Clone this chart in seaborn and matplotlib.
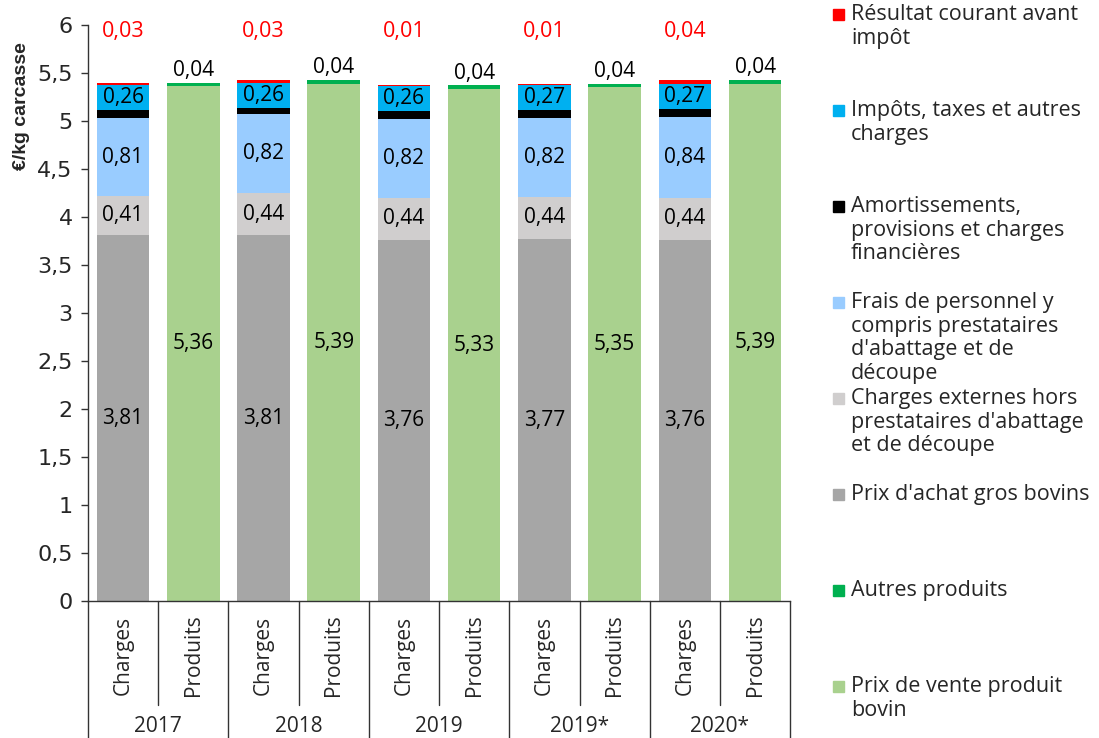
import matplotlib
matplotlib.use("Agg")
import matplotlib.pyplot as plt
from matplotlib.patches import Rectangle
import seaborn as sns
import pandas as pd

# --- données (€/kg carcasse) ---
annees = ["2017", "2018", "2019", "2019*", "2020*"]
types = ["Charges", "Produits"]

# charges, du bas vers le haut
prix_achat = [3.81, 3.81, 3.76, 3.77, 3.76]
charges_externes = [0.41, 0.44, 0.44, 0.44, 0.44]
frais_personnel = [0.81, 0.82, 0.82, 0.82, 0.84]
amortissements = [0.08, 0.07, 0.08, 0.08, 0.08]
impots_taxes = [0.26, 0.26, 0.26, 0.27, 0.27]
resultat = [0.03, 0.03, 0.01, 0.01, 0.04]

# produits, du bas vers le haut
prix_vente = [5.36, 5.39, 5.33, 5.35, 5.39]
autres_produits = [0.04, 0.04, 0.04, 0.04, 0.04]

series_charges = [
    ("Prix d'achat gros bovins", prix_achat, "#A6A6A6"),
    ("Charges externes hors\nprestataires d'abattage\net de découpe", charges_externes, "#D0CECE"),
    ("Frais de personnel y\ncompris prestataires\nd'abattage et de\ndécoupe", frais_personnel, "#99CCFF"),
    ("Amortissements,\nprovisions et charges\nfinancières", amortissements, "#000000"),
    ("Impôts, taxes et autres\ncharges", impots_taxes, "#00B0F0"),
    ("Résultat courant avant\nimpôt", resultat, "#FF0000"),
]
series_produits = [
    ("Prix de vente produit\nbovin", prix_vente, "#A9D18E"),
    ("Autres produits", autres_produits, "#00B050"),
]

barres = [f"{a} {t}" for a in annees for t in types]


def fmt(v):
    return f"{v:.2f}".replace(".", ",")


# table longue : une ligne par barre et par série, avec le cumul
lignes = []
for groupe, type_barre in [(series_charges, "Charges"), (series_produits, "Produits")]:
    for i, a in enumerate(annees):
        cumul = 0
        for nom, vals, couleur in groupe:
            cumul += vals[i]
            lignes.append({"barre": f"{a} {type_barre}", "serie": nom,
                           "valeur": vals[i], "cumul": cumul})
df = pd.DataFrame(lignes)

sns.set_style("white")
plt.rcParams["font.family"] = ["Open Sans", "DejaVu Sans"]

fig = plt.figure(figsize=(10.99, 7.38), dpi=100)
ax = fig.add_axes([0.080, 0.1856, 0.639, 0.7805])

# empilement : on dessine les cumuls du plus haut au plus bas
ordre = list(reversed(series_charges)) + list(reversed(series_produits))
for nom, vals, couleur in ordre:
    sub = df[df["serie"] == nom]
    sns.barplot(data=sub, x="barre", y="cumul", order=barres, color=couleur,
                saturation=1, width=0.75, linewidth=0, errorbar=None, ax=ax)

ax.set_xlim(-0.5, 9.5)
ax.set_ylim(0, 6)
ax.set_yticks([k * 0.5 for k in range(13)])
ax.set_yticklabels([f"{k * 0.5:g}".replace(".", ",") for k in range(13)],
                   family=["Liberation Sans Narrow", "DejaVu Sans"], fontsize=16)
ax.tick_params(axis="y", direction="out", length=5, width=1, color="#333333",
               left=True, pad=6)
ax.set_xticks([])
ax.set_xlabel("")
ax.set_ylabel("€/kg carcasse", fontsize=14, fontweight="bold",
              family=["Liberation Sans", "DejaVu Sans"])
ax.yaxis.set_label_coords(-0.083, 0.86)
for s in ["top", "right"]:
    ax.spines[s].set_visible(False)
for s in ["left", "bottom"]:
    ax.spines[s].set_color("#333333")
    ax.spines[s].set_linewidth(1)

# étiquettes de valeurs
lab = dict(ha="center", va="center", fontsize=15, color="black")
for i in range(len(annees)):
    xc = 2 * i
    xp = 2 * i + 1
    ax.text(xc, prix_achat[i] / 2, fmt(prix_achat[i]), **lab)
    b = prix_achat[i]
    ax.text(xc, b + charges_externes[i] / 2, fmt(charges_externes[i]), **lab)
    b += charges_externes[i]
    ax.text(xc, b + frais_personnel[i] / 2, fmt(frais_personnel[i]), **lab)
    b += frais_personnel[i] + amortissements[i]
    ax.text(xc, b + impots_taxes[i] / 2, fmt(impots_taxes[i]), **lab)
    ax.text(xc, 5.93, fmt(resultat[i]), ha="center", va="center",
            fontsize=15.5, color="#FF0000")
    ax.text(xp, prix_vente[i] + autres_produits[i] + 0.13, fmt(autres_produits[i]), **lab)
    ax.text(xp, prix_vente[i] / 2, fmt(prix_vente[i]), **lab)

# axe des x à deux niveaux
tr = ax.get_xaxis_transform()
for k, b in enumerate(barres):
    ax.text(k, -0.094, types[k % 2], rotation=90, ha="center", va="center",
            fontsize=15, transform=tr)
for i, a in enumerate(annees):
    ax.text(2 * i + 0.5, -0.217, a, ha="center", va="center", fontsize=15,
            transform=tr)
for k in range(11):
    x = k - 0.5
    y_bas = -0.24 if k % 2 == 0 else -0.18
    ax.plot([x, x], [0, y_bas], color="#333333", lw=1, transform=tr, clip_on=False)

# légende à droite
legende = list(reversed(series_charges)) + list(reversed(series_produits))
for j, (nom, vals, couleur) in enumerate(legende):
    yc = 14 + 96 * j
    fig.patches.append(Rectangle((833 / 1099, 1 - (yc + 6) / 738), 11 / 1099, 11 / 738,
                                 transform=fig.transFigure, color=couleur))
    fig.text(851 / 1099, 1 - (yc - 10) / 738, nom, ha="left", va="top",
             fontsize=15.5, linespacing=1.17)

fig.savefig("out.png", dpi=100)
